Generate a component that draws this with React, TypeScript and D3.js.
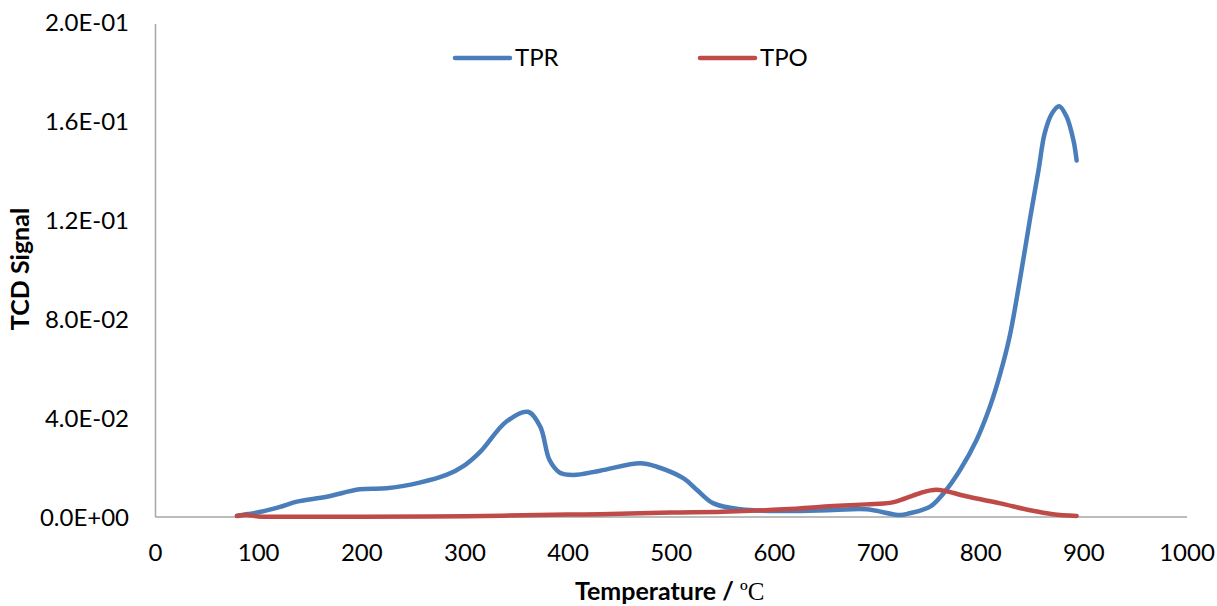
import React, { useEffect, useRef } from "react";
import * as d3 from "d3";

const tprTemp = [79, 90, 101, 120, 137, 166, 198, 224, 256, 282, 300, 315, 340, 361, 373, 382, 392, 405, 431, 470, 486, 512, 525, 541, 567, 609, 657, 689, 722, 731, 751, 764, 780, 796, 809, 819, 828, 838, 848, 856, 862, 869, 876, 883, 890, 893];
const tprSignal = [0.0005, 0.0012, 0.002, 0.004, 0.0062, 0.0082, 0.0112, 0.0116, 0.0139, 0.017, 0.021, 0.0264, 0.0385, 0.0425, 0.0365, 0.023, 0.0179, 0.017, 0.0187, 0.0217, 0.0203, 0.0156, 0.0109, 0.0055, 0.0031, 0.0024, 0.0028, 0.0031, 0.0008, 0.0015, 0.0042, 0.0096, 0.019, 0.0311, 0.0446, 0.058, 0.0728, 0.0958, 0.121, 0.14, 0.155, 0.163, 0.166, 0.162, 0.152, 0.144];

const tpoTemp = [79, 88, 100, 150, 200, 300, 400, 431, 500, 550, 609, 657, 689, 712, 722, 741, 757, 786, 819, 848, 870, 893];
const tpoSignal = [0.0004, 0.0008, 0.0002, 0.0001, 0.0001, 0.0003, 0.001, 0.0011, 0.0018, 0.0021, 0.0031, 0.0044, 0.0051, 0.0057, 0.0068, 0.0096, 0.011, 0.0084, 0.0055, 0.0027, 0.0011, 0.0004];

const xTicks = [0, 100, 200, 300, 400, 500, 600, 700, 800, 900, 1000];
const yTicks = [0, 0.04, 0.08, 0.12, 0.16, 0.2];
const yTickLabels = ["0.0E+00", "4.0E-02", "8.0E-02", "1.2E-01", "1.6E-01", "2.0E-01"];

const seriesNames = ["TPR", "TPO"];
const seriesColors = ["#4a7ebb", "#be4b48"];

const W = 1217;
const H = 606;
const font = "Lato, 'Liberation Sans', sans-serif";

export default function App() {
  const svgRef = useRef<SVGSVGElement | null>(null);

  useEffect(() => {
    const svg = d3.select(svgRef.current);
    svg.selectAll("*").remove();

    const x = d3.scaleLinear().domain([0, 1000]).range([155.5, 1187]);
    const y = d3.scaleLinear().domain([0, 0.2]).range([517, 22]);

    svg.append("rect").attr("width", W).attr("height", H).attr("fill", "#ffffff");

    // axes
    svg.append("line")
      .attr("x1", x(0)).attr("x2", x(0))
      .attr("y1", y(0.2) + 2).attr("y2", y(0))
      .attr("stroke", "#a6a6a6").attr("stroke-width", 1.5);
    svg.append("line")
      .attr("x1", x(0)).attr("x2", x(1000))
      .attr("y1", y(0)).attr("y2", y(0))
      .attr("stroke", "#a6a6a6").attr("stroke-width", 1.5);

    // tick labels
    svg.selectAll(".ylab")
      .data(yTicks)
      .enter()
      .append("text")
      .attr("x", 129)
      .attr("y", (d) => y(d) + 8.5)
      .attr("text-anchor", "end")
      .style("font-family", font)
      .style("font-size", "24px")
      .attr("fill", "#000")
      .text((d, i) => yTickLabels[i]);

    svg.selectAll(".xlab")
      .data(xTicks)
      .enter()
      .append("text")
      .attr("x", (d) => x(d))
      .attr("y", 561)
      .attr("text-anchor", "middle")
      .style("font-family", font)
      .style("font-size", "24px")
      .attr("fill", "#000")
      .text((d) => d);

    // titles
    svg.append("text")
      .attr("transform", "translate(29,269) rotate(-90)")
      .attr("text-anchor", "middle")
      .style("font-family", font)
      .style("font-size", "25px")
      .style("font-weight", "bold")
      .text("TCD Signal");

    const xt = svg.append("text")
      .attr("x", 575)
      .attr("y", 600)
      .style("font-family", font)
      .style("font-size", "25px")
      .style("font-weight", "bold");
    xt.append("tspan").text("Temperature / ");
    xt.append("tspan")
      .style("font-family", "'Liberation Serif', 'DejaVu Serif', serif")
      .style("font-size", "25px")
      .style("font-weight", "normal")
      .text("ºC");

    // series
    const line = d3.line<[number, number]>()
      .x((d) => x(d[0]))
      .y((d) => y(d[1]))
      .curve(d3.curveCatmullRom.alpha(0.5));

    const tprData: [number, number][] = tprTemp.map((t, i) => [t, tprSignal[i]]);
    const tpoData: [number, number][] = tpoTemp.map((t, i) => [t, tpoSignal[i]]);

    [tprData, tpoData].forEach((data, i) => {
      svg.append("path")
        .datum(data)
        .attr("d", line)
        .attr("fill", "none")
        .attr("stroke", seriesColors[i])
        .attr("stroke-width", 4.5)
        .attr("stroke-linecap", "round")
        .attr("stroke-linejoin", "round");
    });

    // legend
    const legendX = [455, 700];
    seriesNames.forEach((name, i) => {
      svg.append("line")
        .attr("x1", legendX[i]).attr("x2", legendX[i] + 55)
        .attr("y1", 58).attr("y2", 58)
        .attr("stroke", seriesColors[i])
        .attr("stroke-width", 4.5)
        .attr("stroke-linecap", "round");
      svg.append("text")
        .attr("x", legendX[i] + 60)
        .attr("y", 66)
        .style("font-family", font)
        .style("font-size", "24px")
        .attr("fill", "#000")
        .text(name);
    });
  }, []);

  return (
    <svg
      ref={svgRef}
      width={W}
      height={H}
      style={{ position: "absolute", left: 0, top: 0, display: "block" }}
    />
  );
}
